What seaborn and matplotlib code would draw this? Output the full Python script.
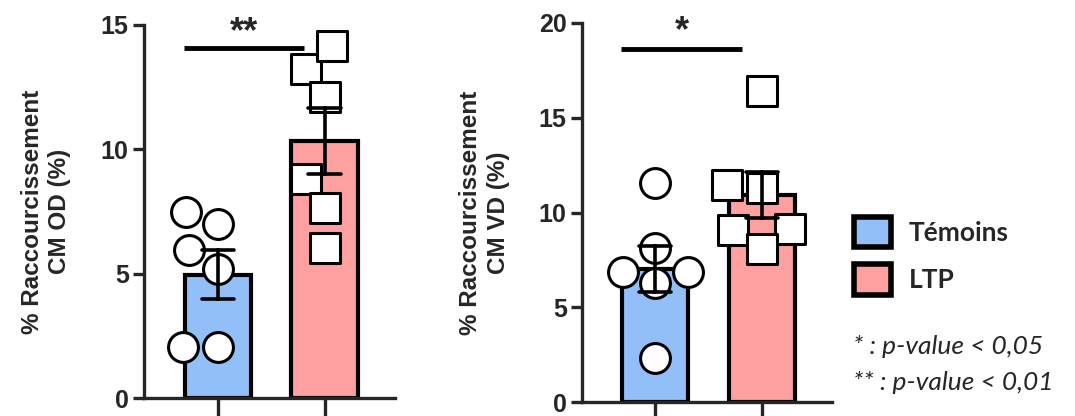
import matplotlib
matplotlib.use("Agg")
import matplotlib.pyplot as plt
from matplotlib.patches import Patch
import seaborn as sns
import pandas as pd

# groups and values
groups = ["Témoins", "LTP"]
od_temoins = [7.0, 7.5, 5.95, 5.2, 2.05, 2.05]
od_ltp = [13.25, 14.15, 12.1, 8.8, 7.65, 6.05]
vd_temoins = [11.55, 8.15, 6.85, 6.85, 6.3, 2.3]
vd_ltp = [16.4, 11.45, 11.3, 9.1, 9.15, 8.1]
od_yticks = [0, 5, 10, 15]
vd_yticks = [0, 5, 10, 15, 20]
od_sig = "**"
vd_sig = "*"

colors = {"Témoins": "#92BFF7", "LTP": "#FFA0A0"}

sns.set_theme(style="ticks")
plt.rcParams["font.family"] = ["Liberation Sans", "DejaVu Sans"]
plt.rcParams["font.weight"] = "bold"


def make_df(a, b):
    return pd.DataFrame({"group": [groups[0]] * len(a) + [groups[1]] * len(b),
                         "value": a + b})


def panel(ax, df, yticks, ylabel, sig, sig_y, txt_y):
    sns.barplot(data=df, x="group", y="value", hue="group", order=groups,
                palette=colors, saturation=1, errorbar="se", capsize=0.3,
                width=0.62, edgecolor="black", linewidth=3, legend=False,
                ax=ax, err_kws={"color": "black", "linewidth": 2.6})
    for ln in ax.lines:
        ln.set_zorder(6)
    sns.swarmplot(data=df[df.group == groups[0]], x="group", y="value",
                  order=groups, marker="o", size=21.5, color="white",
                  edgecolor="black", linewidth=2.2, ax=ax, zorder=4)
    sns.swarmplot(data=df[df.group == groups[1]], x="group", y="value",
                  order=groups, marker="s", size=22, color="white",
                  edgecolor="black", linewidth=2.2, ax=ax, zorder=4)
    ax.set_ylim(yticks[0], yticks[-1])
    ax.set_yticks(yticks)
    ax.set_xlim(-0.69, 1.66)
    ax.set_xticks([0, 1])
    ax.set_xticklabels(["", ""])
    ax.set_xlabel("")
    ax.set_ylabel(ylabel, fontsize=17.5, fontweight="bold", linespacing=1.25)
    ax.yaxis.set_label_coords(-0.29, 0.5)
    sns.despine(ax=ax)
    for s in ["left", "bottom"]:
        ax.spines[s].set_linewidth(2.4)
    ax.tick_params(axis="y", length=8, width=2.4, pad=3, labelsize=18)
    ax.tick_params(axis="x", length=16, width=2.4)
    ax.plot([-0.32, 0.81], [sig_y, sig_y], color="black", lw=3.5,
            solid_capstyle="butt", clip_on=False)
    ax.text(0.25, txt_y, sig, ha="center", va="center", fontsize=26,
            fontweight="bold", clip_on=False)


fig = plt.figure(figsize=(10.75, 4.16), dpi=100)
ax1 = fig.add_axes([144 / 1075, 18 / 416, 251 / 1075, 373 / 416])
ax2 = fig.add_axes([582 / 1075, 14 / 416, 250 / 1075, 379 / 416])

panel(ax1, make_df(od_temoins, od_ltp), od_yticks,
      "% Raccourcissement\nCM OD (%)", od_sig, 14.07, 14.7)
panel(ax2, make_df(vd_temoins, vd_ltp), vd_yticks,
      "% Raccourcissement\nCM VD (%)", vd_sig, 18.63, 19.55)

handles = [Patch(facecolor=colors[g], edgecolor="black", linewidth=4)
           for g in groups]
fig.legend(handles, groups, loc="upper left", bbox_to_anchor=(843 / 1075, 1 - 206 / 416),
           frameon=False, handlelength=1.4, handleheight=1.4, handletextpad=0.7,
           labelspacing=0.65, borderaxespad=0,
           prop={"family": "Lato", "weight": "bold", "size": 19})

fig.text(853 / 1075, 1 - 347 / 416, "* : p-value < 0,05", ha="left", va="center",
         family="Lato", style="italic", weight="normal", fontsize=19)
fig.text(853 / 1075, 1 - 383 / 416, "** : p-value < 0,01", ha="left", va="center",
         family="Lato", style="italic", weight="normal", fontsize=19)

fig.savefig("out.png", dpi=100)
